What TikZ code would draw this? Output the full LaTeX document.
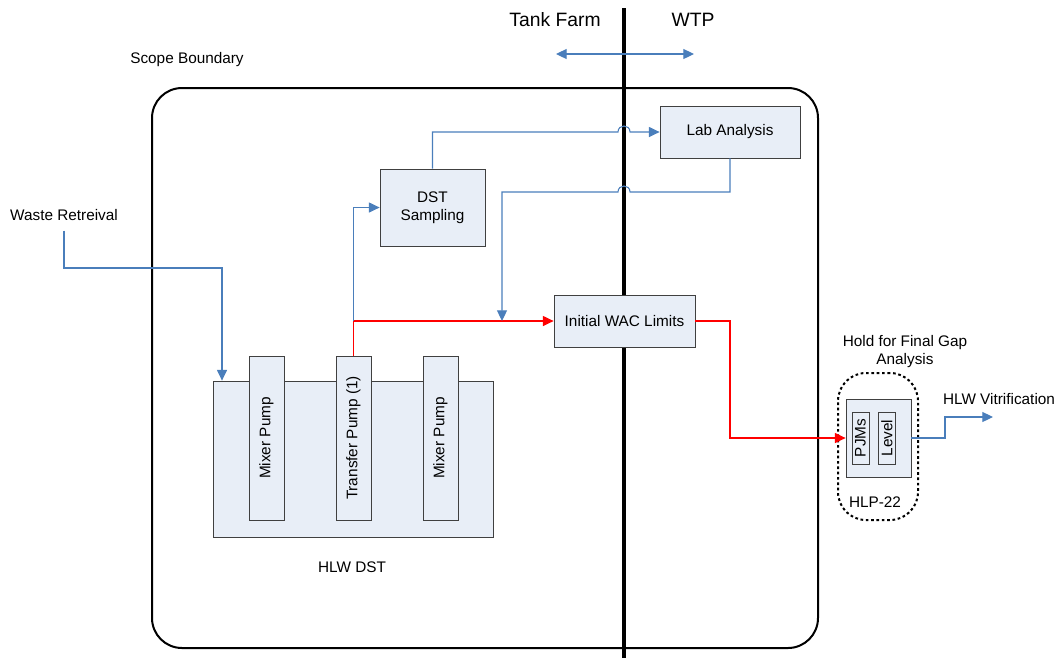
\documentclass[tikz,border=0pt]{standalone}
\usepackage{fontspec}
\setmainfont{Liberation Sans}
\usepackage{tikz}
\usetikzlibrary{positioning,arrows.meta,calc}
\definecolor{boxfill}{RGB}{232,238,247}
\definecolor{boxline}{RGB}{64,64,64}
\definecolor{flowblue}{RGB}{74,126,187}

\begin{document}
\begin{tikzpicture}[x=0.75pt,y=-0.75pt,
  every node/.style={font=\fontsize{11.5}{13.5}\selectfont},
  unit/.style={shape=rectangle,draw=boxline,fill=boxfill,line width=0.6pt,align=center,inner sep=1pt},
  pump/.style={unit,rotate=90,minimum width=123pt,minimum height=26.25pt},
  flow/.style={draw=flowblue,line width=0.8pt,-{Triangle[length=8pt,width=7.5pt]}},
  feed/.style={draw=red,line width=0.8pt,-{Triangle[length=8pt,width=7.5pt]}},
  title/.style={font=\fontsize{14.5}{17}\selectfont}]
\useasboundingbox (0,0) rectangle (1060,658);
\draw[line width=1.5pt,rounded corners=22.5pt] (152,88) rectangle (818,648);
\coordinate (divtop) at (624,8);
\coordinate (divbot) at (624,658);
\draw[line width=3pt] (divtop) -- (divbot);
\node[title] (tf) at (555,20) {Tank Farm};
\node[title] (wtp) at (693,20) {WTP};
\coordinate (sideL) at (556,54);
\coordinate (sideR) at (694,54);
\draw[flow,{Triangle[length=8pt,width=7.5pt]}-{Triangle[length=8pt,width=7.5pt]}] (sideL) -- (sideR);
\node (scope) at (187,60) {Scope Boundary};
\node (waste) at (64,215) {Waste Retreival};

\node[unit,minimum width=105pt,minimum height=39pt] (lab) at (730,132) {Lab Analysis};
\node[unit,minimum width=78.75pt,minimum height=57.75pt] (dsts) at (432.5,207.5) {DST\\Sampling};
\node[unit,minimum width=105.75pt,minimum height=39pt] (wac) at (624.5,321) {Initial WAC Limits};

\node[unit,minimum width=210pt,minimum height=117pt] (tank) at (353,459) {};
\node[pump] (mp1) at (266.5,438) {Mixer Pump};
\node[pump] (tp) at (353.5,438) {Transfer Pump (1)};
\node[pump] (mp2) at (440.5,438) {Mixer Pump};
\node (dst) at (352,567) {HLW DST};

\node[draw,line width=1.5pt,dash pattern=on 2pt off 2pt,rounded corners=21pt,minimum width=60pt,minimum height=110.25pt] (hold) at (878,446.5) {};
\node[unit,minimum width=48.75pt,minimum height=58.5pt] (hlp) at (878.5,438) {};
\node[unit,rotate=90,minimum width=39pt,minimum height=12.75pt,inner sep=0pt] (pjm) at (860.5,438) {PJMs};
\node[unit,rotate=90,minimum width=39pt,minimum height=12.75pt,inner sep=0pt] (lvl) at (887,438) {Level};
\node (hlp22) at (875,502) {HLP-22};
\node[align=center] (gap) at (905,352) {Hold for Final Gap\\Analysis};
\node (vitr) at (999,399) {HLW Vitrification};

\coordinate (wr) at (222,268);
\draw[flow] ([yshift=-4pt]waste.south) |- (wr) -- (wr |- tank.north);
\draw[feed] (tp.east) |- (wac.west);
\draw[flow] (tp.east |- wac.west) |- (dsts.west);
\draw[flow] (dsts.north) |- (618,132) .. controls (618,124) and (630,124) .. (630,132) -- (lab.west);
\coordinate (drop) at (502,192);
\draw[flow] (lab.south) |- (630,192) .. controls (630,184) and (618,184) .. (618,192) -- (drop) -- (drop |- wac.west);
\draw[feed] (wac.east) -| (730,438) -- (hlp.west);
\coordinate (vit) at (993,417);
\draw[flow] (hlp.east) -| (945,417) -- (vit);
\end{tikzpicture}
\end{document}
